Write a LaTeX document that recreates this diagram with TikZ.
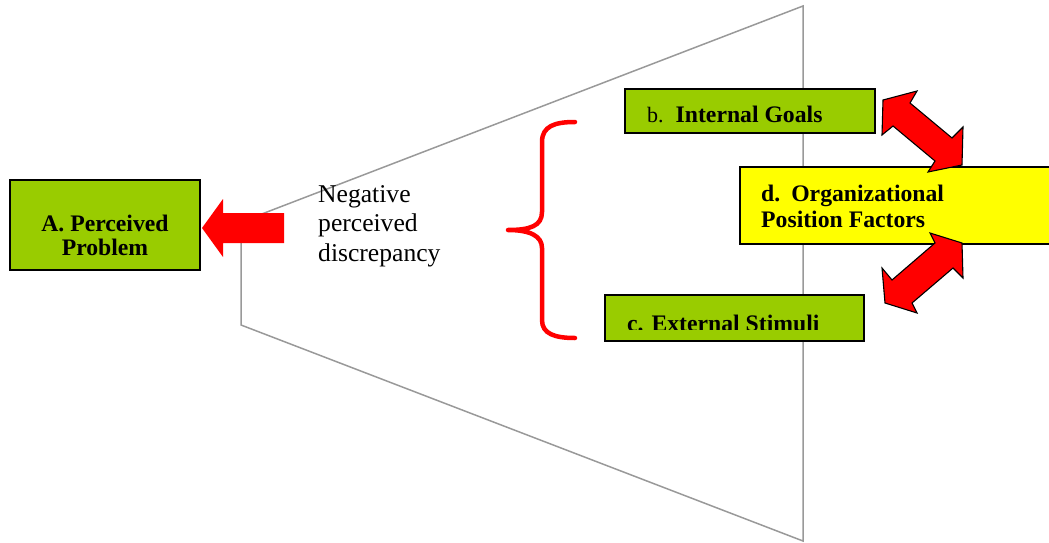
\documentclass[tikz,border=0pt]{standalone}
\usepackage{fontspec}
\setmainfont{Liberation Serif}
\definecolor{boxgreen}{HTML}{99CC00}
\definecolor{boxyellow}{HTML}{FFFF00}
\definecolor{arrred}{HTML}{FF0000}
\definecolor{linegray}{HTML}{999999}
\tikzset{
  gbox/.style={draw=black, line width=2pt, fill=boxgreen, inner sep=0pt},
  ybox/.style={draw=black, line width=2pt, fill=boxyellow, inner sep=0pt},
  blockarrow/.style={fill=arrred, draw=black, line width=1.1pt, line join=miter},
  bracestyle/.style={draw=arrred, line width=4.5pt, line cap=round, line join=round},
  boldtxt/.style={font=\fontsize{23.7}{24.5}\selectfont\bfseries, inner sep=0pt},
}
\begin{document}
\begin{tikzpicture}[x=1pt, y=-1pt]
\useasboundingbox (0,0) rectangle (1049,543);
\clip (0,0) rectangle (1049,543);

% trapezoid
\draw[linegray, line width=1.5pt, line join=miter] (241,222) -- (803,6) -- (803,541) -- (241,325) -- cycle;

% boxes
\node[gbox, minimum width=190pt, minimum height=90pt] (A) at (105,225) {};
\node[gbox, minimum width=250pt, minimum height=44pt] (b) at (750,111) {};
\node[ybox, minimum width=322pt, minimum height=77pt] (d) at (901,205.5) {};
\node[gbox, minimum width=259pt, minimum height=46pt] (c) at (734.5,318) {};

% box texts
\node[boldtxt, align=center, anchor=north, font=\fontsize{23.7}{24.5}\selectfont\bfseries] (Atext) at (105,214.8) {A. Perceived\\Problem};
\node[inner sep=0pt, anchor=base west] (btext) at (647,122)
  {\fontsize{22}{23}\selectfont b.\hspace*{12pt}\fontsize{23.7}{24.5}\selectfont\bfseries Internal Goals};
\node[boldtxt, align=left, anchor=north west, font=\fontsize{23.7}{26}\selectfont\bfseries] (dtext) at (761,185.2) {d.\hspace*{11pt}Organizational\\Position Factors};
\begin{scope}
  \clip (606,296) rectangle (863,329.5);
  \node[boldtxt, anchor=base west] (ctext) at (627,331) {c. External Stimuli};
\end{scope}

% left arrow
\path[fill=arrred] (202,228) -- (223,199) -- (223,213) -- (284,213) -- (284,243) -- (223,243) -- (223,257) -- cycle;

% double arrows
\path[blockarrow] (883,100) -- (917,91) -- (910,103) -- (952,138) -- (963,127) -- (962,165)
  -- (928,172) -- (935,161) -- (893,126) -- (882,135) -- cycle;
\path[blockarrow] (962,243) -- (963,278) -- (953,268) -- (912,303) -- (917,313) -- (885,303)
  -- (882,268) -- (892,280) -- (935,243) -- (930,233) -- cycle;

% brace
\draw[bracestyle] (575,122) .. controls (555,122) and (542,126) .. (542,142) -- (542,212)
  .. controls (542,226) and (530,230) .. (508,230)
  .. controls (530,230) and (542,236) .. (542,248) -- (542,320)
  .. controls (542,334) and (555,338) .. (575,338);

% discrepancy text
\node[inner sep=0pt, align=left, anchor=north west, font=\fontsize{25.6}{29.5}\selectfont] (neg) at (318,185.3) {Negative\\perceived\\discrepancy};
\end{tikzpicture}
\end{document}
